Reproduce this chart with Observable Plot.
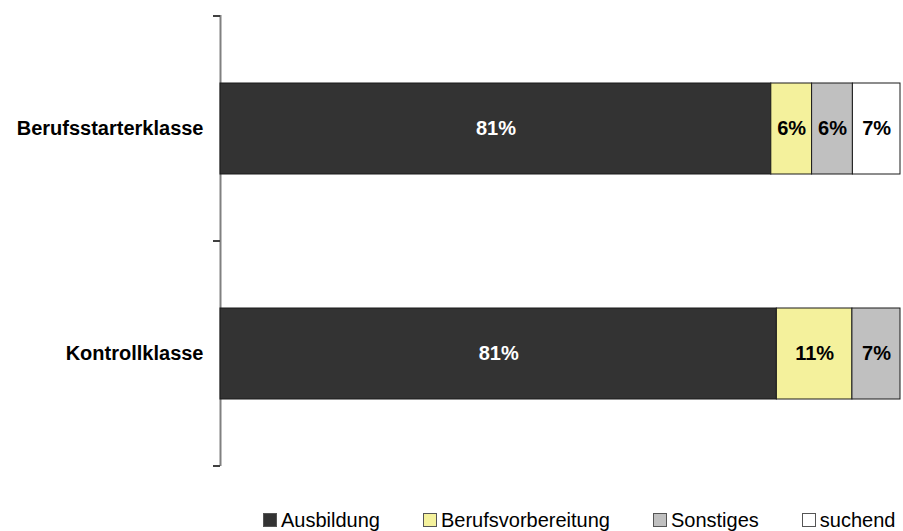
<!DOCTYPE html>
<html>
<head>
<meta charset="utf-8">
<script src="https://cdn.jsdelivr.net/npm/d3@7"></script>
<script src="https://cdn.jsdelivr.net/npm/@observablehq/plot@0.6"></script>
<style>
  html, body { margin: 0; padding: 0; background: #fff; }
  body { width: 903px; height: 531px; overflow: hidden; font-family: "Liberation Sans", Arial, sans-serif; }
  #legend { display: flex; align-items: center; margin-left: 263px; margin-top: 11px; height: 18px; font-size: 20px; color: #000; }
  .item { display: flex; align-items: center; margin-right: 43px; white-space: nowrap; }
  .item:last-child { margin-right: 0; }
  .sw { width: 12px; height: 12px; border: 1px solid #555; margin-right: 4px; box-sizing: content-box; }
</style>
</head>
<body>
<div id="chart"></div>
<div id="legend"></div>
<script>
// ---- data ----
const categories = ["Berufsstarterklasse", "Kontrollklasse"];
const series = ["Ausbildung", "Berufsvorbereitung", "Sonstiges", "suchend"];
const berufsstarterValues = [81, 6, 6, 7];
const kontrollValues = [81, 11, 7, 0];
const seriesColors = ["#333333", "#f4f19c", "#c0c0c0", "#ffffff"];
const labelColors = ["#ffffff", "#000000", "#000000", "#000000"];

const valuesByCategory = [berufsstarterValues, kontrollValues];
const rows = [];
categories.forEach((c, ci) => {
  series.forEach((s, si) => {
    const v = valuesByCategory[ci][si];
    if (v > 0) rows.push({category: c, series: s, value: v, label: v + "%", labelColor: labelColors[si]});
  });
});

// tick marks at band boundaries (Excel-style category axis)
function boundaryTicks(index, scales, values, dimensions) {
  const y = scales.y;
  const bw = typeof y.bandwidth === "function" ? y.bandwidth() : 0;
  const x0 = scales.x(0);
  const ys = categories.map(c => y(c));
  ys.push(y(categories[categories.length - 1]) + bw);
  const g = d3.create("svg:g");
  g.selectAll("line").data(ys).join("line")
    .attr("x1", x0 - 7).attr("x2", x0)
    .attr("y1", d => d).attr("y2", d => d)
    .attr("stroke", "#404040").attr("stroke-width", 2);
  return g.node();
}

const chart = Plot.plot({
  width: 903,
  height: 500,
  marginTop: 15,
  marginBottom: 34,
  marginLeft: 220,
  marginRight: 3,
  style: {fontFamily: "'Liberation Sans', Arial, sans-serif", fontSize: "20px", background: "#fff"},
  x: {axis: null, domain: [0, 1]},
  y: {domain: categories, padding: 0, axis: null},
  color: {domain: series, range: seriesColors},
  marks: [
    Plot.ruleX([0], {stroke: "#808080", strokeWidth: 2}),
    boundaryTicks,
    Plot.barX(rows, Plot.stackX({
      offset: "normalize",
      x: "value", y: "category", fill: "series",
      stroke: "#1a1a1a", strokeWidth: 1,
      insetTop: 67, insetBottom: 67
    })),
    Plot.text(rows, Plot.stackX({
      offset: "normalize",
      x: "value", y: "category", text: "label",
      fill: "labelColor", fontWeight: "bold", fontSize: 20
    })),
    Plot.axisY({tickSize: 0, tickPadding: 17, fontWeight: "bold", fontSize: 20, label: null, color: "#000"})
  ]
});
document.getElementById("chart").appendChild(chart);

// legend
const legend = d3.select("#legend");
series.forEach((s, i) => {
  const it = legend.append("div").attr("class", "item");
  it.append("div").attr("class", "sw").style("background", seriesColors[i]);
  it.append("span").text(s);
});
</script>
</body>
</html>
